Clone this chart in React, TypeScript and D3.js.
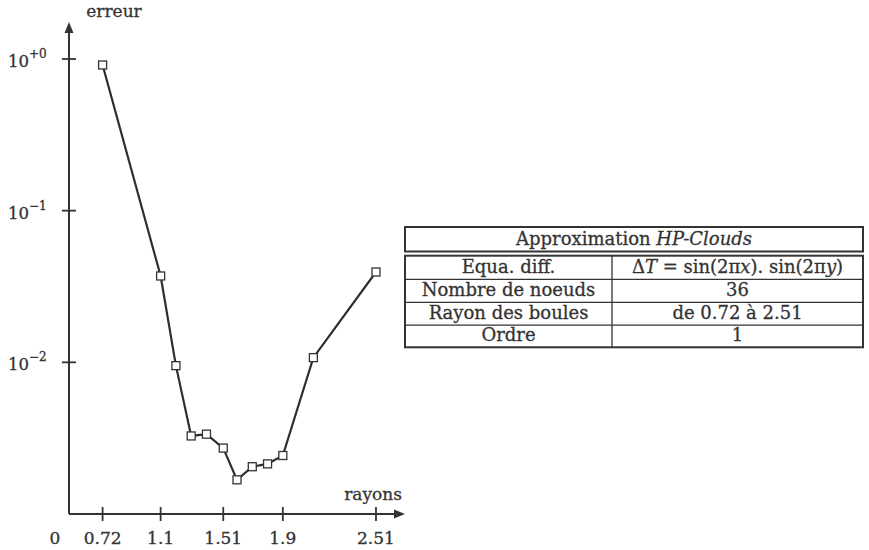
import React from "react";
import * as d3 from "d3";

const rayons = [0.72, 1.1, 1.2, 1.3, 1.4, 1.51, 1.6, 1.7, 1.8, 1.9, 2.1, 2.51];
const erreurs = [0.913, 0.0371, 0.00951, 0.00327, 0.00336, 0.00272, 0.00168, 0.00205, 0.00214, 0.00243, 0.01074, 0.0394];
const xTicks = [0.72, 1.1, 1.51, 1.9, 2.51];
const xTickLabels = ["0.72", "1.1", "1.51", "1.9", "2.51"];
const yTicks = [1, 0.1, 0.01];
const yTickSup = ["+0", "\u22121", "\u22122"];
const tableTitle = "Approximation";
const tableTitleItalic = "HP-Clouds";
const rowLabels = ["Equa. diff.", "Nombre de noeuds", "Rayon des boules", "Ordre"];
const rowValues = ["", "36", "de 0.72 \u00e0 2.51", "1"];

const INK = "#333";
const FONT = "'DejaVu Serif', serif";

export default function App() {
  const x = d3.scaleLinear().domain([0.5, 2.7]).range([69, 405]);
  const y = d3.scaleLog().domain([1e-3, 1]).range([514, 59]);
  const x0 = x(0.5);
  const yAxisY = y(1e-3);
  const yTop = 22;
  const xEnd = x(2.7);

  const pts = rayons.map((r, i) => [x(r), y(erreurs[i])] as [number, number]);
  const line = d3.line()(pts) || "";

  // table geometry
  const tL = 405, tR = 863, tDiv = 612;
  const hTop = 227, hBot = 251.5;
  const rowYs = [255.7, 279.3, 302.3, 325.2, 347.3];

  const txt = { stroke: INK, strokeWidth: 0.3 };

  return (
    <svg width={869} height={550} style={{ position: "absolute", left: 0, top: 0, background: "#fff" }}
      fontFamily={FONT} fill={INK}>
      {/* axes */}
      <line x1={x0} y1={yAxisY} x2={x0} y2={yTop + 8} stroke={INK} strokeWidth={2} />
      <path d={`M${x0},${yTop} L${x0 - 4.5},${yTop + 11} L${x0 + 4.5},${yTop + 11} Z`} fill={INK} />
      <line x1={x0} y1={yAxisY} x2={xEnd - 8} y2={yAxisY} stroke={INK} strokeWidth={2} />
      <path d={`M${xEnd},${yAxisY} L${xEnd - 11},${yAxisY - 4.5} L${xEnd - 11},${yAxisY + 4.5} Z`} fill={INK} />

      {xTicks.map((t, i) => (
        <g key={"xt" + i}>
          <line x1={x(t)} x2={x(t)} y1={yAxisY - 7} y2={yAxisY + 7} stroke={INK} strokeWidth={1.8} />
          <text x={x(t)} y={544} textAnchor="middle" fontSize={17} {...txt}>{xTickLabels[i]}</text>
        </g>
      ))}
      <text x={55} y={544} textAnchor="middle" fontSize={17} {...txt}>0</text>
      <text x={402} y={500} textAnchor="end" fontSize={17} {...txt}>rayons</text>

      {yTicks.map((t, i) => (
        <g key={"yt" + i}>
          <line x1={x0 - 7} x2={x0 + 7} y1={y(t)} y2={y(t)} stroke={INK} strokeWidth={1.8} />
          <text x={8} y={y(t) + 8} fontSize={16.5} {...txt}>10</text>
          <text x={29} y={y(t) - 1} fontSize={12} {...txt}>{yTickSup[i]}</text>
        </g>
      ))}
      <text x={114} y={17} textAnchor="middle" fontSize={17} {...txt}>erreur</text>

      {/* series */}
      <path d={line} fill="none" stroke="#2e2e2e" strokeWidth={2.2} />
      {pts.map((p, i) => (
        <rect key={"m" + i} x={p[0] - 4} y={p[1] - 4} width={8} height={8} fill="#fff" stroke="#333" strokeWidth={1.3} />
      ))}

      {/* table */}
      <g stroke={INK} fill="none">
        <rect x={tL} y={hTop} width={tR - tL} height={hBot - hTop} strokeWidth={2} />
        <rect x={tL} y={rowYs[0]} width={tR - tL} height={rowYs[4] - rowYs[0]} strokeWidth={2} />
        {rowYs.slice(1, 4).map((ry, i) => (
          <line key={"rl" + i} x1={tL} x2={tR} y1={ry} y2={ry} strokeWidth={1.3} />
        ))}
        <line x1={tDiv} x2={tDiv} y1={rowYs[0]} y2={rowYs[4]} strokeWidth={1.3} />
      </g>
      <text x={(tL + tR) / 2} y={hBot - 7} textAnchor="middle" fontSize={18} {...txt}>
        {tableTitle + " "}<tspan fontStyle="italic">{tableTitleItalic}</tspan>
      </text>
      {rowLabels.map((lab, i) => (
        <text key={"lab" + i} x={(tL + tDiv) / 2} y={rowYs[i + 1] - 6} textAnchor="middle" fontSize={18} {...txt}>{lab}</text>
      ))}
      {rowValues.map((v, i) => (
        i === 0 ? (
          <text key={"val" + i} x={(tDiv + tR) / 2} y={rowYs[i + 1] - 6} textAnchor="middle" fontSize={18} {...txt}>
            {"\u0394"}<tspan fontStyle="italic">T</tspan>{" = sin(2\u03c0"}<tspan fontStyle="italic">x</tspan>{"). sin(2\u03c0"}<tspan fontStyle="italic">y</tspan>{")"}
          </text>
        ) : (
          <text key={"val" + i} x={(tDiv + tR) / 2} y={rowYs[i + 1] - 6} textAnchor="middle" fontSize={18} {...txt}>{v}</text>
        )
      ))}
    </svg>
  );
}
